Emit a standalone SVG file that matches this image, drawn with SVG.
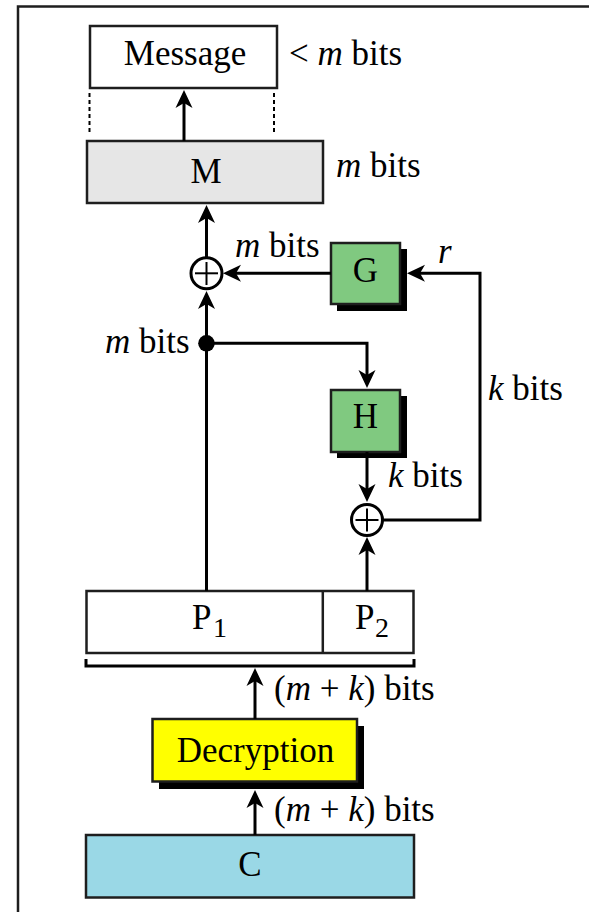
<svg xmlns="http://www.w3.org/2000/svg" width="589" height="912" viewBox="0 0 589 912">
<style>
.box{stroke:#1e1e1e;stroke-width:2.5}
.shadow{fill:#000}
.t{font-family:"Liberation Serif","Times New Roman",serif;font-size:35px;fill:#000}
.c{text-anchor:middle}
.i{font-style:italic}
.sub{font-size:28px}
.ln{fill:none;stroke:#000;stroke-width:3}
.arr{fill:none;stroke:#000;stroke-width:3;marker-end:url(#ah)}
.dash{fill:none;stroke:#000;stroke-width:2;stroke-dasharray:4 3}
.xor{fill:#fff;stroke:#000;stroke-width:3}
.plus{stroke:#000;stroke-width:2}
</style>
<defs>
<marker id="ah" viewBox="0 -10 20 20" refX="5" refY="0" markerWidth="20" markerHeight="20" markerUnits="userSpaceOnUse" orient="auto">
<path d="M18,0 L0,-8.5 L5,0 L0,8.5 Z" fill="#000"/>
</marker>
</defs>
<rect x="18" y="6.5" width="620" height="950" fill="none" stroke="#1e1e1e" stroke-width="2.5"/>

<g id="message">
<rect class="box" x="90" y="26" width="187" height="62" fill="#fff"/>
<text class="t c" x="185" y="65">Message</text>
<text class="t" x="289" y="65">&lt; <tspan class="i">m</tspan> bits</text>
</g>
<g id="dashes">
<line class="dash" x1="89.5" y1="93" x2="89.5" y2="134"/>
<line class="dash" x1="274" y1="93" x2="274" y2="134"/>
</g>
<g id="M">
<rect class="box" x="87" y="141" width="236" height="62" fill="#e6e6e6"/>
<text class="t c" x="206" y="183">M</text>
<text class="t" x="336" y="177"><tspan class="i">m</tspan> bits</text>
</g>
<g id="G">
<rect class="shadow" x="337" y="249" width="70" height="62"/>
<rect class="box" x="331" y="243" width="69" height="61" fill="#80c980"/>
<text class="t c" x="365.5" y="282">G</text>
</g>
<g id="H">
<rect class="shadow" x="337" y="396" width="70" height="62"/>
<rect class="box" x="331" y="390" width="69" height="62" fill="#80c980"/>
<text class="t c" x="365.5" y="428">H</text>
</g>
<g id="xor1">
<circle class="xor" cx="206.5" cy="273.3" r="15.5"/>
<line class="plus" x1="195" y1="273.3" x2="218" y2="273.3"/>
<line class="plus" x1="206.5" y1="262" x2="206.5" y2="285"/>
</g>
<g id="xor2">
<circle class="xor" cx="367" cy="520" r="15.5"/>
<line class="plus" x1="355.5" y1="520" x2="378.5" y2="520"/>
<line class="plus" x1="367" y1="508.5" x2="367" y2="531.5"/>
</g>
<g id="P">
<rect class="box" x="86.5" y="591" width="327" height="62" fill="#fff"/>
<line class="box" x1="322.8" y1="591" x2="322.8" y2="653"/>
<text class="t" x="192" y="629">P<tspan class="sub" x="213" y="637">1</tspan></text>
<text class="t" x="355" y="629">P<tspan class="sub" x="375" y="637">2</tspan></text>
<path class="ln" d="M86,659 V666 H414 V659" stroke-width="2.5"/>
</g>
<g id="decryption">
<rect class="shadow" x="159" y="726" width="205" height="63"/>
<rect class="box" x="152.5" y="719" width="204.5" height="62.5" fill="#ffff00"/>
<text class="t c" x="255.5" y="762">Decryption</text>
</g>
<g id="C">
<rect class="box" x="86" y="835" width="328" height="62.5" fill="#9ad8e6"/>
<text class="t c" x="250" y="876">C</text>
</g>

<g id="connectors">
<line class="arr" x1="184" y1="141" x2="184" y2="103"/>
<line class="arr" x1="206.5" y1="257.8" x2="206.5" y2="218"/>
<line class="arr" x1="331" y1="273.3" x2="236" y2="273.3"/>
<path class="arr" d="M382.5,520 H480 V273.3 H420"/>
<line class="arr" x1="206.5" y1="591" x2="206.5" y2="304"/>
<circle cx="206.5" cy="343.3" r="8.3" fill="#000"/>
<path class="arr" d="M206.5,343.3 H367 V375"/>
<line class="arr" x1="367" y1="452" x2="367" y2="489"/>
<line class="arr" x1="367" y1="591" x2="367" y2="550"/>
<line class="arr" x1="255" y1="719" x2="255" y2="681"/>
<line class="arr" x1="255" y1="835" x2="255" y2="803"/>
</g>

<g id="labels">
<text class="t" x="235" y="257"><tspan class="i">m</tspan> bits</text>
<text class="t i" x="438" y="263">r</text>
<text class="t" x="105" y="353"><tspan class="i">m</tspan> bits</text>
<text class="t" x="488" y="400"><tspan class="i">k</tspan> bits</text>
<text class="t" x="388" y="487"><tspan class="i">k</tspan> bits</text>
<text class="t" x="274" y="700">(<tspan class="i">m</tspan> + <tspan class="i">k</tspan>) bits</text>
<text class="t" x="274" y="821">(<tspan class="i">m</tspan> + <tspan class="i">k</tspan>) bits</text>
</g>
</svg>
